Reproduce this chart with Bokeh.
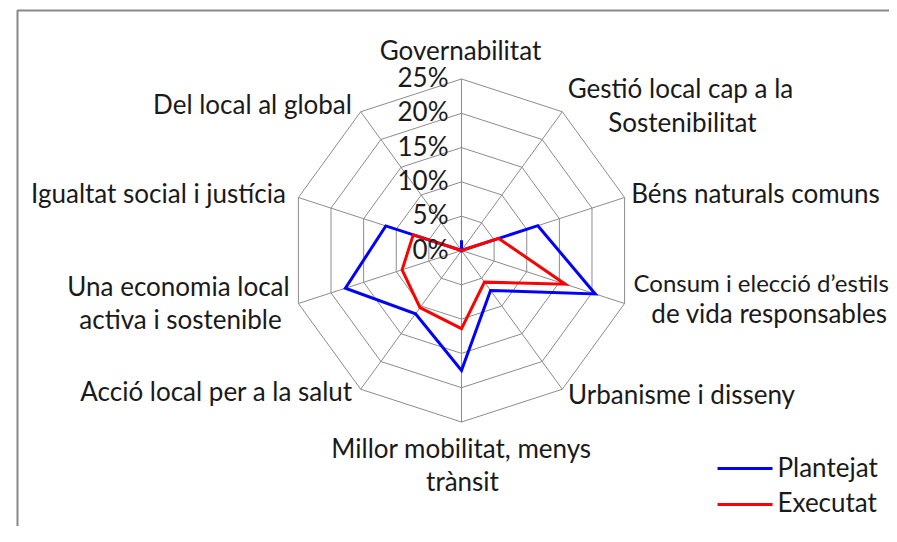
import numpy as np
from bokeh.plotting import figure
from bokeh.models import ColumnDataSource, Range1d
from bokeh.embed import file_html
from bokeh.resources import INLINE
from bokeh.core.properties import value

# ---------------- data ----------------
categories = [
    "Governabilitat",
    "Gestió local cap a la Sostenibilitat",
    "Béns naturals comuns",
    "Consum i elecció d’estils de vida responsables",
    "Urbanisme i disseny",
    "Millor mobilitat, menys trànsit",
    "Acció local per a la salut",
    "Una economia local activa i sostenible",
    "Igualtat social i justícia",
    "Del local al global",
]
plantejat = [1.5, 0.0, 11.7, 20.5, 7.2, 17.5, 11.4, 17.8, 11.6, 0.0]
executat = [0.0, 0.0, 5.7, 15.9, 5.7, 11.4, 10.3, 9.1, 7.4, 0.0]
series_names = ["Plantejat", "Executat"]
tick_values = [0, 5, 10, 15, 20, 25]
tick_labels = ["0%", "5%", "10%", "15%", "20%", "25%"]

# ---------------- layout (pixels of the picture) ----------------
W, H = 889, 526
OX, OY = 0, 0                  # picture position of the canvas
CX, CY = 461.0, 250.0          # centre of the radar in the picture
S = 171.5 / 25.0               # pixels per percent
FONT = value("Lato")
FSIZE = "26px"
TXT = "#1a1a1a"
TEXT_DY = -10                  # correction of the rendered text baseline

def dx(px):
    return (px - CX) / S

def dy(py):
    return (CY - py) / S

def ty(py):
    return dy(py + TEXT_DY)

# category label lines: (text, x px, baseline y px, align, size)
label_layout = [
    [("Governabilitat", 460, 59, "center", FSIZE)],
    [("Gestió local cap a la", 680, 97, "center", FSIZE), ("Sostenibilitat", 682, 131, "center", FSIZE)],
    [("Béns naturals comuns", 755, 202, "center", FSIZE)],
    [("Consum i elecció d’estils", 633, 292, "left", "24px"), ("de vida responsables", 769, 322, "center", FSIZE)],
    [("Urbanisme i disseny", 681, 403, "center", FSIZE)],
    [("Millor mobilitat, menys", 461, 457, "center", FSIZE), ("trànsit", 462, 490, "center", FSIZE)],
    [("Acció local per a la salut", 216, 400, "center", FSIZE)],
    [("Una economia local", 178, 295, "center", FSIZE), ("activa i sostenible", 180, 328, "center", FSIZE)],
    [("Igualtat social i justícia", 158, 202, "center", FSIZE)],
    [("Del local al global", 252, 113, "center", FSIZE)],
]

p = figure(width=W, height=H, output_backend="svg", toolbar_location=None,
           x_range=Range1d(dx(OX), dx(OX + W)), y_range=Range1d(dy(OY + H), dy(OY)),
           min_border=0, outline_line_color=None)
p.axis.visible = False
p.grid.visible = False
p.background_fill_color = "white"
p.border_fill_color = "white"

n = len(categories)
ang = np.array([2 * np.pi * i / n for i in range(n)])
ux, uy = np.sin(ang), np.cos(ang)

# chart frame (top and left border of the chart area)
p.line([dx(17), dx(17), dx(W)], [dy(H), dy(10), dy(10)],
       line_color="#878787", line_width=2)

# rings
rmax = max(tick_values)
ring_xs, ring_ys = [], []
for t in tick_values[1:]:
    ring_xs.append(list(np.append(ux * t, ux[0] * t)))
    ring_ys.append(list(np.append(uy * t, uy[0] * t)))
p.multi_line(ring_xs, ring_ys, line_color="#8c8c8c", line_width=1)
# spokes
p.multi_line([[0, ux[i] * rmax] for i in range(n)], [[0, uy[i] * rmax] for i in range(n)],
             line_color="#8c8c8c", line_width=1)

# series
for vals, col in [(plantejat, "#0000ff"), (executat, "#ff0000")]:
    v = np.array(vals)
    xs = np.append(ux * v, ux[0] * v[0])
    ys = np.append(uy * v, uy[0] * v[0])
    p.line(xs, ys, line_color=col, line_width=3, line_join="miter")

# tick labels along the top spoke
tsrc = ColumnDataSource(dict(x=[dx(448)] * len(tick_values),
                             y=[t - (8.0 + TEXT_DY) / S for t in tick_values],
                             text=tick_labels))
p.text(x="x", y="y", text="text", source=tsrc, text_font=FONT, text_font_size=FSIZE,
       text_color=TXT, text_align="right", text_baseline="alphabetic")

# category labels
for lines in label_layout:
    for (t, x, y, al, fs) in lines:
        p.text(x=[dx(x)], y=[ty(y)], text=[t], text_font=FONT, text_font_size=fs,
               text_color=TXT, text_align=al, text_baseline="alphabetic")

# legend
leg_y = [468, 504]
leg_base = [476, 511]
for name, col, yy, yb in zip(series_names, ["#0000ff", "#ff0000"], leg_y, leg_base):
    p.line([dx(717), dx(772)], [dy(yy), dy(yy)], line_color=col, line_width=3)
    p.text(x=[dx(777)], y=[ty(yb)], text=[name], text_font=FONT, text_font_size=FSIZE,
           text_color=TXT, text_align="left", text_baseline="alphabetic")

open("out.html", "w").write(file_html(p, INLINE))
